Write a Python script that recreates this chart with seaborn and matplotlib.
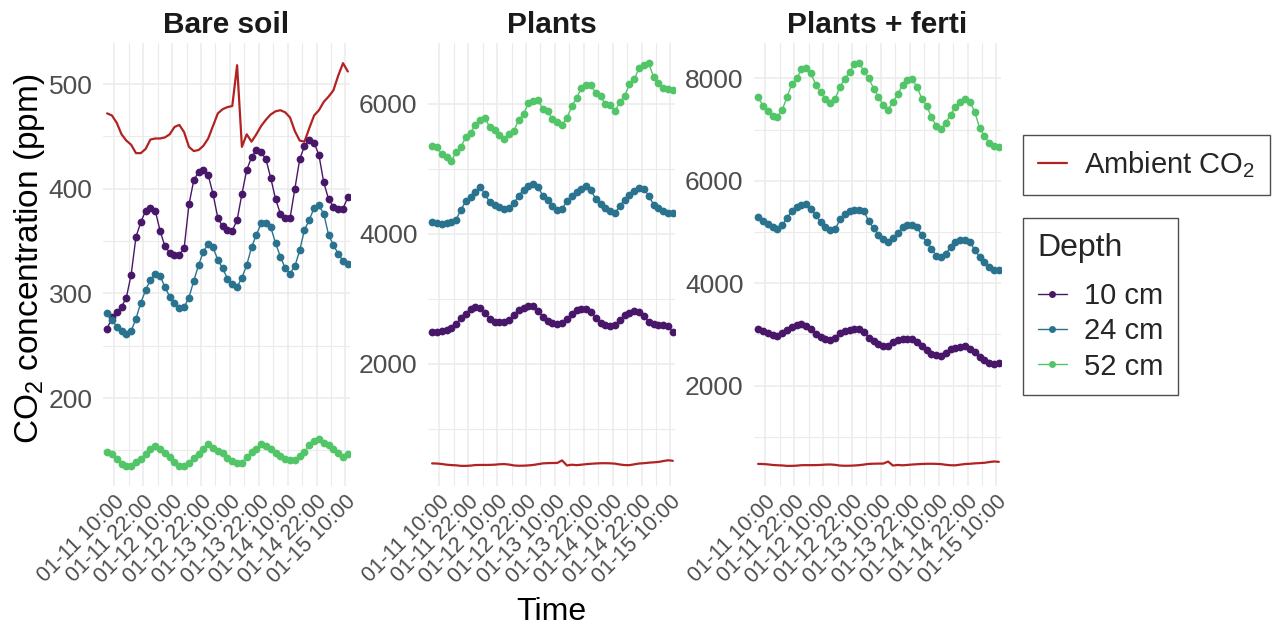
import numpy as np
import pandas as pd
import matplotlib
matplotlib.use("Agg")
import matplotlib.pyplot as plt
import matplotlib.dates as mdates
from matplotlib.lines import Line2D
import seaborn as sns

# ---------------- data ----------------
start_time = "2023-01-11 07:00"
n_points = 51  # every 2 h until 01-15 11:00

treatments = ["Bare soil", "Plants", "Plants + ferti"]
depths = ["10 cm", "24 cm", "52 cm"]

ambient = [472, 470, 463, 452, 446, 442, 434, 434, 438, 447, 448, 448, 449, 452, 459, 461, 454,
           440, 436, 437, 441, 448, 460, 472, 476, 478, 479, 518, 440, 452, 445, 452, 460, 466,
           471, 474, 475, 473, 468, 455, 446, 445, 458, 470, 475, 483, 488, 494, 508, 520, 512]

bare_10 = [266, 277, 282, 287, 296, 318, 354, 368, 379, 382, 379, 360, 345, 339, 337, 337, 343,
           385, 408, 416, 418, 413, 395, 372, 364, 361, 360, 370, 395, 418, 430, 437, 435, 428,
           410, 390, 376, 372, 372, 400, 428, 441, 447, 444, 432, 406, 390, 383, 381, 381, 392]
bare_24 = [281, 275, 268, 264, 261, 264, 276, 291, 303, 313, 319, 317, 306, 297, 291, 286, 287,
           296, 312, 327, 340, 347, 344, 332, 324, 314, 309, 306, 315, 327, 344, 356, 367, 367,
           363, 348, 335, 324, 319, 326, 341, 361, 370, 382, 384, 376, 356, 346, 338, 331, 328]
bare_52 = [148.7, 146.1, 141.3, 137.1, 135.2, 135.2, 138.7, 142.0, 146.8, 151.6, 154.1, 150.9,
           147.1, 143.9, 138.7, 135.5, 135.5, 138.1, 142.9, 146.8, 151.6, 155.7, 152.5, 149.3,
           147.1, 142.9, 139.7, 138.1, 138.1, 143.9, 148.4, 151.6, 155.7, 154.1, 150.9, 147.7,
           144.5, 142.0, 140.7, 140.7, 144.5, 148.4, 154.8, 159.0, 160.5, 157.3, 154.8, 150.9,
           147.7, 143.9, 146.1]

plants_10 = [2487, 2498, 2508, 2518, 2559, 2621, 2702, 2774, 2846, 2877, 2861, 2790, 2687, 2651,
             2641, 2641, 2672, 2759, 2836, 2866, 2887, 2887, 2820, 2728, 2662, 2631, 2621, 2626,
             2692, 2774, 2830, 2846, 2846, 2795, 2702, 2631, 2600, 2585, 2600, 2672, 2754, 2784,
             2810, 2800, 2733, 2646, 2610, 2600, 2595, 2580, 2487]
plants_24 = [4182, 4167, 4157, 4162, 4177, 4218, 4372, 4500, 4566, 4638, 4720, 4607, 4484, 4443,
             4407, 4382, 4397, 4474, 4587, 4679, 4730, 4771, 4720, 4587, 4515, 4423, 4372, 4387,
             4500, 4587, 4638, 4689, 4730, 4669, 4536, 4464, 4392, 4346, 4320, 4433, 4525, 4602,
             4658, 4699, 4689, 4587, 4448, 4397, 4351, 4320, 4320]
plants_52 = [5344, 5329, 5226, 5180, 5124, 5257, 5334, 5488, 5554, 5677, 5754, 5779, 5636, 5590,
             5513, 5457, 5534, 5585, 5754, 5841, 6010, 6035, 6061, 5918, 5882, 5764, 5713, 5677,
             5779, 5959, 6087, 6240, 6291, 6291, 6163, 6112, 5994, 5984, 5892, 6020, 6122, 6302,
             6378, 6547, 6599, 6624, 6409, 6317, 6240, 6225, 6204]

ferti_10 = [3101, 3062, 3022, 2983, 2970, 3022, 3094, 3140, 3179, 3205, 3173, 3107, 3009, 2944,
            2912, 2899, 2938, 3036, 3062, 3094, 3114, 3107, 3055, 2938, 2879, 2814, 2768, 2781,
            2847, 2892, 2912, 2918, 2912, 2860, 2781, 2703, 2618, 2599, 2586, 2644, 2709, 2742,
            2755, 2768, 2722, 2651, 2553, 2494, 2449, 2422, 2442]
ferti_24 = [5293, 5208, 5156, 5103, 5064, 5130, 5280, 5403, 5488, 5534, 5553, 5443, 5325, 5195,
            5103, 5032, 5051, 5247, 5345, 5403, 5430, 5436, 5403, 5208, 5077, 4947, 4856, 4816,
            4882, 4986, 5090, 5143, 5136, 5103, 4934, 4803, 4673, 4542, 4523, 4581, 4712, 4803,
            4836, 4836, 4803, 4653, 4516, 4412, 4321, 4255, 4262]
ferti_52 = [7635, 7465, 7361, 7269, 7250, 7380, 7641, 7883, 8000, 8176, 8202, 8098, 7869, 7739,
            7602, 7530, 7596, 7843, 7987, 8130, 8274, 8300, 8143, 8000, 7804, 7641, 7485, 7393,
            7543, 7693, 7869, 7961, 7987, 7837, 7609, 7465, 7250, 7074, 7022, 7139, 7295, 7445,
            7543, 7609, 7543, 7348, 7034, 6878, 6747, 6682, 6663]

tick_labels = ["01-11 10:00", "01-11 22:00", "01-12 10:00", "01-12 22:00", "01-13 10:00",
               "01-13 22:00", "01-14 10:00", "01-14 22:00", "01-15 10:00"]

series = {
    "Bare soil": [bare_10, bare_24, bare_52],
    "Plants": [plants_10, plants_24, plants_52],
    "Plants + ferti": [ferti_10, ferti_24, ferti_52],
}

# ---------------- build frames ----------------
times = pd.date_range(start_time, periods=n_points, freq="2h")
rows = []
for trt in treatments:
    for d, vals in zip(depths, series[trt]):
        for t, v in zip(times, vals):
            rows.append((trt, d, t, v))
df = pd.DataFrame(rows, columns=["treatment", "depth", "time", "co2"])
amb_df = pd.DataFrame({"time": times, "co2": ambient})

# ---------------- style ----------------
sns.set_theme(style="whitegrid")
plt.rcParams["font.family"] = ["Liberation Sans", "DejaVu Sans"]
plt.rcParams["mathtext.fontset"] = "custom"
plt.rcParams["mathtext.rm"] = "Liberation Sans"

palette = {"10 cm": "#481769", "24 cm": "#2A738E", "52 cm": "#52C569"}
amb_color = "#B22222"
grid_color = "#EBEBEB"
tick_color = "#4D4D4D"

W, H = 1272, 628
fig = plt.figure(figsize=(W / 100, H / 100), dpi=100)

panel_left = [103, 428, 754]
panel_w = 247
panel_top, panel_bot = 43, 486

tick_times = pd.date_range("2023-01-11 10:00", periods=len(tick_labels), freq="12h")
minor_times = pd.date_range("2023-01-11 16:00", periods=len(tick_labels) - 1, freq="12h")
x0 = pd.Timestamp("2023-01-11 10:00") - pd.Timedelta(hours=4.7)
x1 = pd.Timestamp("2023-01-11 10:00") + pd.Timedelta(hours=97.9)

yticks = {
    "Bare soil": ([200, 300, 400, 500], [150, 250, 350, 450]),
    "Plants": ([2000, 4000, 6000], [1000, 3000, 5000]),
    "Plants + ferti": ([2000, 4000, 6000, 8000], [1000, 3000, 5000, 7000]),
}

for trt, left in zip(treatments, panel_left):
    ax = fig.add_axes([left / W, 1 - panel_bot / H, panel_w / W, (panel_bot - panel_top) / H])
    ax.set_facecolor("white")
    sub = df[df.treatment == trt]
    sns.lineplot(data=amb_df, x="time", y="co2", color=amb_color, linewidth=1.6, ax=ax,
                 legend=False, zorder=3)
    sns.lineplot(data=sub, x="time", y="co2", hue="depth", palette=palette, marker="o",
                 markersize=5.6, markeredgewidth=0, linewidth=1.0, ax=ax, legend=False,
                 zorder=4)
    ax.set_xlim(x0, x1)
    ax.margins(y=0.05)
    ax.autoscale(axis="y")
    maj, mnr = yticks[trt]
    ax.set_yticks(maj)
    ax.set_yticks(mnr, minor=True)
    ax.set_yticklabels([str(v) for v in maj])
    ax.set_xticks(tick_times)
    ax.set_xticks(minor_times, minor=True)
    ax.set_xticklabels(tick_labels, rotation=45, ha="right", va="top",
                       rotation_mode="anchor")
    ax.grid(True, which="major", color=grid_color, linewidth=1.1)
    ax.grid(True, which="minor", color=grid_color, linewidth=0.8)
    ax.set_axisbelow(True)
    for s in ax.spines.values():
        s.set_visible(False)
    ax.tick_params(axis="both", which="both", length=0, colors=tick_color)
    ax.tick_params(axis="y", labelsize=19, pad=7.5)
    ax.tick_params(axis="x", labelsize=15.5, pad=4)
    ax.set_xlabel("")
    ax.set_ylabel("")
    ax.set_title(trt, fontsize=21.5, fontweight="bold", color="#1A1A1A", pad=7)

fig.text(30 / W, 1 - 259 / H, r"CO$_\mathregular{2}$ concentration (ppm)", rotation=90,
         ha="center", va="center", fontsize=24, color="black")
fig.text(551 / W, 1 - 612 / H, "Time", ha="center", va="center", fontsize=23, color="black")

# legends
amb_handle = [Line2D([0], [0], color=amb_color, linewidth=1.6)]
leg1 = fig.legend(amb_handle, [r"Ambient CO$_\mathregular{2}$"], loc="upper left",
                  bbox_to_anchor=(1023 / W, 1 - 135 / H), fontsize=21, frameon=True,
                  fancybox=False, edgecolor="#222222", handlelength=1.0, handletextpad=0.6,
                  borderpad=0.5, borderaxespad=0)
leg1.get_frame().set_linewidth(1.0)

dep_handles = [Line2D([0], [0], color=palette[d], linewidth=1.0, marker="o", markersize=5,
                      markeredgewidth=0) for d in depths]
leg2 = fig.legend(dep_handles, depths, title="Depth", loc="upper left",
                  bbox_to_anchor=(1023 / W, 1 - 218 / H), fontsize=21, title_fontsize=23,
                  frameon=True, fancybox=False, edgecolor="#222222", handlelength=1.0,
                  handletextpad=0.6, borderpad=0.5, labelspacing=0.25, borderaxespad=0,
                  alignment="left")
leg2.get_frame().set_linewidth(1.0)
leg2._legend_box.sep = 14

fig.savefig("out.png", dpi=100, facecolor="white")
